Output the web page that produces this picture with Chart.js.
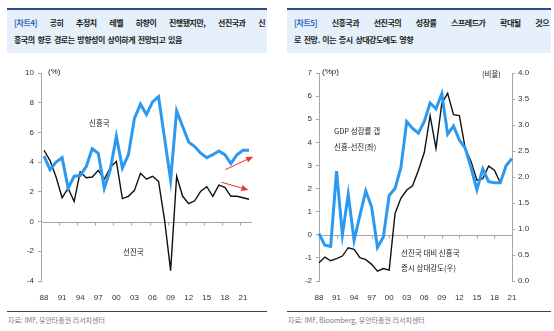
<!DOCTYPE html>
<html>
<head>
<meta charset="utf-8">
<script src="https://cdn.jsdelivr.net/npm/chart.js@4/dist/chart.umd.min.js"></script>
<style>
  body { margin: 0; width: 554px; height: 331px; background: #fff; position: relative; overflow: hidden;
         font-family: "Noto Sans CJK KR", sans-serif; }
  .hd { position: absolute; top: 8px; height: 45px; box-sizing: border-box; background: #E6F0FA;
        border-top: 2px solid #2D4E8E; padding: 4px 2px 0 7px; font-size: 8px; font-weight: bold;
        letter-spacing: -0.5px; word-spacing: 1.5px; color: #1c1c1c; line-height: 17px; white-space: nowrap; }
  .hd .j { text-align: justify; text-align-last: justify; white-space: normal; }
  .hd .tag { color: #3567BE; }
  .box { position: absolute; top: 55px; width: 277px; height: 245px; }
  .note { position: absolute; font-size: 7.5px; color: #222; line-height: 10px; white-space: nowrap; }
  .unit { position: absolute; font-size: 8px; color: #222; line-height: 10px; font-family: "Liberation Sans", sans-serif; white-space: nowrap; }
  .ft { position: absolute; top: 311px; border-top: 1px solid #444; height: 18px; box-sizing: border-box;
        font-size: 7px; color: #7a7a7a; padding: 4px 0 0 1px; line-height: 8px; }
</style>
</head>
<body>

<div class="hd" style="left:7px;width:260px">
  <div class="j"><span class="tag">[차트4]</span> 공히 추정치 레벨 하향이 진행됐지만, 선진국과 신</div>
  <div>흥국의 향후 경로는 방향성이 상이하게 전망되고 있음</div>
</div>
<div class="hd" style="left:287px;width:264px">
  <div class="j"><span class="tag">[차트5]</span> 신흥국과 선진국의 성장률 스프레드가 확대될 것으</div>
  <div>로 전망. 이는 증시 상대강도에도 영향</div>
</div>

<div class="box" style="left:0"><canvas id="c4"></canvas></div>
<div class="box" style="left:277px"><canvas id="c5"></canvas></div>

<div class="unit" style="left:48px;top:67px">(%)</div>
<div class="note" style="left:89px;top:118px">신흥국</div>
<div class="note" style="left:123px;top:247px">선진국</div>

<div class="unit" style="left:322px;top:67px">(%p)</div>
<div class="note" style="left:482px;top:69px">(비율)</div>
<div class="note" style="left:334px;top:126px">GDP 성장률 갭</div>
<div class="note" style="left:334px;top:142px">신흥-선진(좌)</div>
<div class="note" style="left:401px;top:248px">선진국 대비 신흥국</div>
<div class="note" style="left:401px;top:263px">증시 상대강도(우)</div>

<div class="ft" style="left:7px;width:260px">자료: IMF, 유안타증권 리서치센터</div>
<div class="ft" style="left:287px;width:264px">자료: IMF, Bloomberg, 유안타증권 리서치센터</div>

<script>
// 실질 GDP 성장률 (%), 1988~2022
const yearsL = [1988, 1989, 1990, 1991, 1992, 1993, 1994, 1995, 1996, 1997,
                1998, 1999, 2000, 2001, 2002, 2003, 2004, 2005, 2006, 2007,
                2008, 2009, 2010, 2011, 2012, 2013, 2014, 2015, 2016, 2017,
                2018, 2019, 2020, 2021, 2022];
const emGrowth = [4.4, 3.5, 4.0, 4.3, 2.25, 3.05, 3.1, 3.7, 4.9, 4.6,
                  2.25, 3.5, 5.75, 3.6, 4.5, 6.95, 7.9, 7.2, 8.05, 8.4,
                  5.6, 2.8, 7.45, 6.4, 5.35, 5.05, 4.6, 4.3, 4.5, 4.75,
                  4.5, 3.9, 4.5, 4.8, 4.8];
const aeGrowth = [4.8, 4.1, 3.0, 1.6, 2.25, 1.35, 3.35, 2.95, 3.0, 3.45,
                  2.85, 3.65, 4.05, 1.55, 1.7, 2.1, 3.25, 2.85, 3.05, 2.7,
                  0.1, -3.3, 3.05, 1.7, 1.2, 1.4, 2.05, 2.35, 1.7, 2.45,
                  2.3, 1.7, 1.7, 1.6, 1.5];
const ticksL = [-4, -2, 0, 2, 4, 6, 8, 10];

// 성장률 갭(좌, %p)과 증시 상대강도(우, 배), 1988~2021
const yearsR = [1988, 1989, 1990, 1991, 1992, 1993, 1994, 1995, 1996, 1997,
                1998, 1999, 2000, 2001, 2002, 2003, 2004, 2005, 2006, 2007,
                2008, 2009, 2010, 2011, 2012, 2013, 2014, 2015, 2016, 2017,
                2018, 2019, 2020, 2021];
const growthGap = [0.05, -0.45, -0.5, 2.75, 0.0, 1.75, -0.25, 0.85, 1.9, 1.2,
                   -0.55, -0.1, 1.7, 2.0, 2.9, 4.9, 4.6, 4.4, 4.9, 5.7,
                   5.45, 6.1, 4.35, 4.7, 4.1, 3.75, 2.9, 1.95, 2.85, 2.3,
                   2.25, 2.25, 3.0, 3.3];
const relStrength = [0.35, 0.46, 0.39, 0.43, 0.48, 0.64, 0.61, 0.45, 0.41, 0.32,
                     0.19, 0.24, 0.21, 1.3, 1.59, 1.75, 1.83, 2.13, 2.47, 3.18,
                     2.55, 3.42, 3.61, 3.2, 3.18, 2.55, 2.3, 1.94, 1.97, 2.21,
                     2.13, 1.89, null, null];
const ticksRL = [-2, -1, 0, 1, 2, 3, 4, 5, 6, 7];
const ticksRR = [0, 0.5, 1, 1.5, 2, 2.5, 3, 3.5, 4];

// 전망 방향 화살표 (연도, 값)
const trendArrows = [
  [[2018.1, 3.5], [2022.7, 4.37]],
  [[2017.4, 2.65], [2021.9, 2.13]]
];

const BLUE = '#2C99F0';
const AXIS = '#A6A6A6';
const TICK_FONT = { family: 'Liberation Sans', size: 8 };
const TICK_COLOR = '#333';

// 0선과 그 아래 눈금
const zeroAxis = {
  id: 'zeroAxis',
  beforeDatasetsDraw(chart, args, opts) {
    const { ctx, chartArea: a, scales } = chart;
    const y0 = Math.round(scales.y.getPixelForValue(0)) + 0.5;
    ctx.save();
    ctx.strokeStyle = AXIS;
    ctx.lineWidth = 1;
    ctx.beginPath();
    ctx.moveTo(a.left, y0);
    ctx.lineTo(a.right, y0);
    opts.at.forEach(i => {
      const px = Math.round(scales.x.getPixelForValue(i)) + 0.5;
      ctx.moveTo(px, y0);
      ctx.lineTo(px, y0 + 3);
    });
    ctx.stroke();
    ctx.restore();
  }
};

const arrows = {
  id: 'arrows',
  afterDatasetsDraw(chart, args, opts) {
    if (!opts.list) return;
    const { ctx, scales: { x, y } } = chart;
    ctx.save();
    ctx.strokeStyle = ctx.fillStyle = '#E8352B';
    ctx.lineWidth = 1;
    opts.list.forEach(([p, q]) => {
      const x1 = x.getPixelForValue(p[0] - opts.base), y1 = y.getPixelForValue(p[1]);
      const x2 = x.getPixelForValue(q[0] - opts.base), y2 = y.getPixelForValue(q[1]);
      const ang = Math.atan2(y2 - y1, x2 - x1);
      const hl = 7, hw = 3;
      const bx = x2 - hl * Math.cos(ang), by = y2 - hl * Math.sin(ang);
      ctx.beginPath();
      ctx.moveTo(x1, y1);
      ctx.lineTo(bx, by);
      ctx.stroke();
      ctx.beginPath();
      ctx.moveTo(x2, y2);
      ctx.lineTo(bx + hw * Math.sin(ang), by - hw * Math.cos(ang));
      ctx.lineTo(bx - hw * Math.sin(ang), by + hw * Math.cos(ang));
      ctx.closePath();
      ctx.fill();
    });
    ctx.restore();
  }
};

function yearLabel(years) {
  return (v, i) => i % 3 === 0 ? String(years[i]).slice(2) : '';
}

function valueAxis(list, extra) {
  return Object.assign({
    min: list[0],
    max: list[list.length - 1],
    afterBuildTicks: s => { s.ticks = list.map(v => ({ value: v })); },
    ticks: { font: TICK_FONT, color: TICK_COLOR, padding: 4 },
    grid: { drawOnChartArea: false, tickLength: 3, color: AXIS },
    border: { color: AXIS }
  }, extra);
}

new Chart(document.getElementById('c4'), {
  type: 'line',
  data: {
    labels: yearsL,
    datasets: [
      { data: emGrowth, borderColor: BLUE, borderWidth: 3, pointRadius: 0 },
      { data: aeGrowth, borderColor: '#111', borderWidth: 1.4, pointRadius: 0 }
    ]
  },
  options: {
    animation: false,
    responsive: true,
    maintainAspectRatio: false,
    layout: { padding: { left: 0, right: 25, top: 18, bottom: 0 } },
    plugins: {
      legend: { display: false },
      tooltip: { enabled: false },
      zeroAxis: { at: yearsL.map((y, i) => i - 0.5).filter((v, i) => i % 3 === 0) },
      arrows: { list: trendArrows, base: yearsL[0] }
    },
    scales: {
      x: {
        offset: true,
        grid: { display: false },
        border: { display: false },
        ticks: { autoSkip: false, maxRotation: 0, padding: 4, font: TICK_FONT, color: TICK_COLOR,
                 callback: yearLabel(yearsL) },
        afterFit: s => { s.height = 19; }
      },
      y: valueAxis(ticksL, { afterFit: s => { s.width = 41; } })
    }
  },
  plugins: [zeroAxis, arrows]
});

new Chart(document.getElementById('c5'), {
  type: 'line',
  data: {
    labels: yearsR,
    datasets: [
      { data: growthGap, yAxisID: 'y', borderColor: BLUE, borderWidth: 3, pointRadius: 0 },
      { data: relStrength, yAxisID: 'y2', borderColor: '#111', borderWidth: 1.4, pointRadius: 0 }
    ]
  },
  options: {
    animation: false,
    responsive: true,
    maintainAspectRatio: false,
    layout: { padding: { left: 0, right: 0, top: 18, bottom: 0 } },
    plugins: {
      legend: { display: false },
      tooltip: { enabled: false },
      zeroAxis: { at: yearsR.map((y, i) => i).filter(i => i % 3 === 0) }
    },
    scales: {
      x: {
        offset: false,
        grid: { display: false },
        border: { display: false },
        ticks: { autoSkip: false, maxRotation: 0, padding: 4, font: TICK_FONT, color: TICK_COLOR,
                 callback: yearLabel(yearsR) },
        afterFit: s => { s.height = 19; }
      },
      y: valueAxis(ticksRL, { afterFit: s => { s.width = 42; } }),
      y2: valueAxis(ticksRR, {
        position: 'right',
        ticks: { font: TICK_FONT, color: TICK_COLOR, padding: 3, callback: v => v.toFixed(1) },
        afterFit: s => { s.width = 42; }
      })
    }
  },
  plugins: [zeroAxis]
});
</script>
</body>
</html>
